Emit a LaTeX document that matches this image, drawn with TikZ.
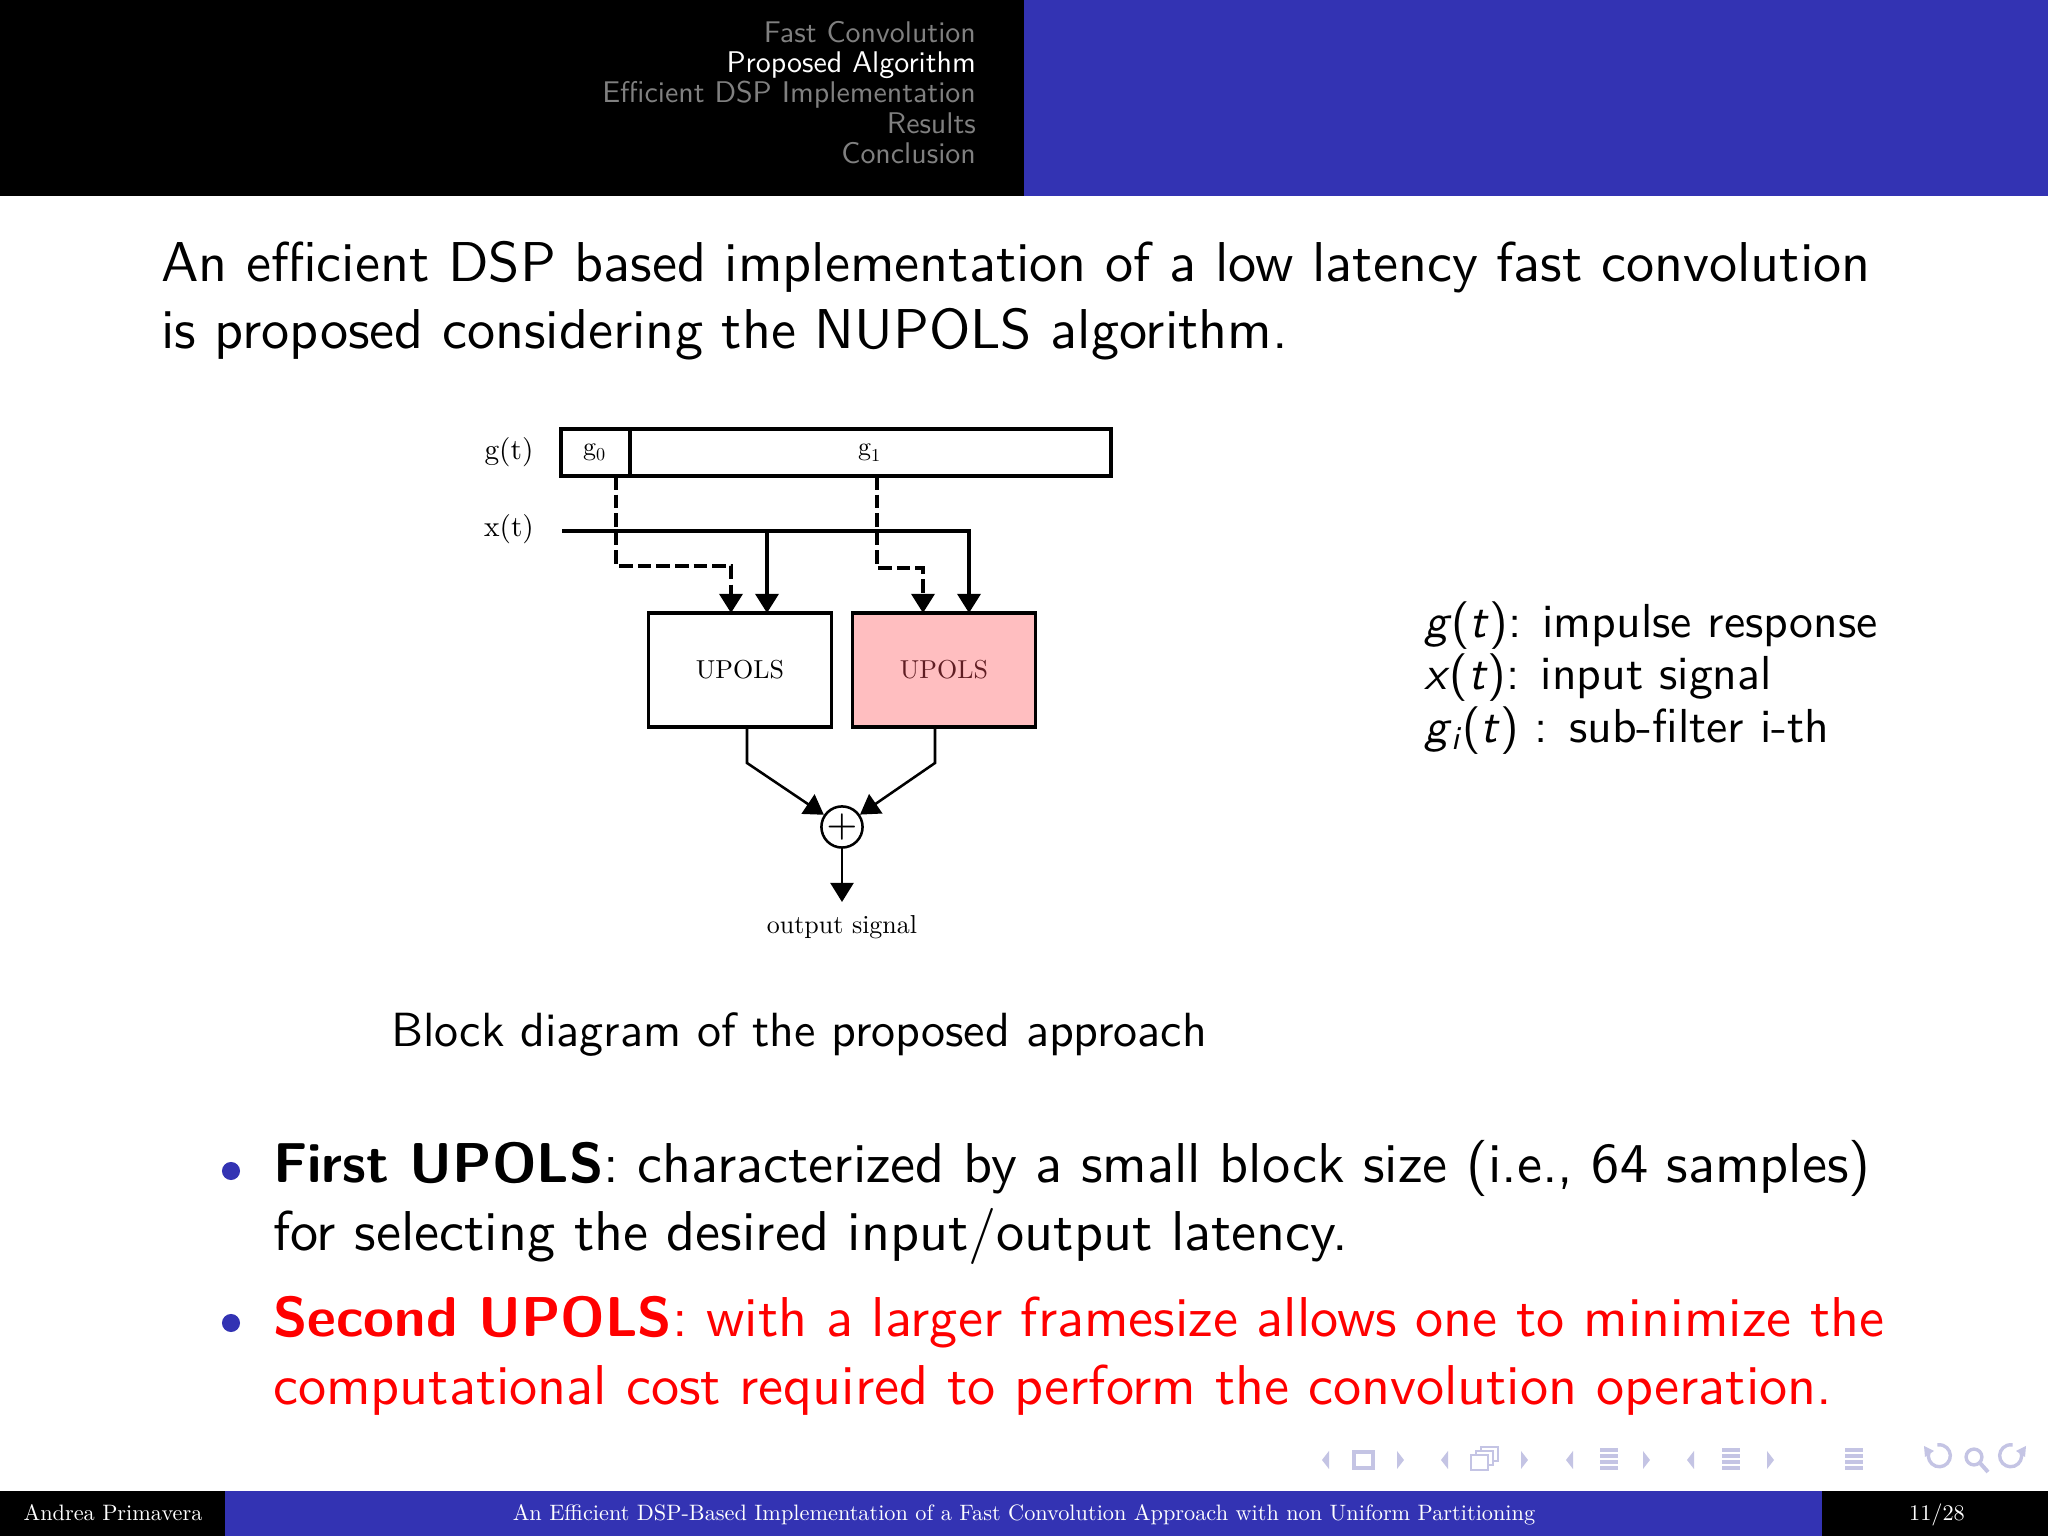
\documentclass[tikz,border=0pt]{standalone}
\usepackage{fontspec}
\usetikzlibrary{arrows.meta}
\newfontfamily\rmten{lmroman10-regular.otf}
\newfontfamily\sften{lmsans10-regular.otf}[ItalicFont=lmsans10-oblique.otf]
\definecolor{bblue}{RGB}{51,51,179}
\definecolor{pinkbox}{RGB}{255,190,192}
\definecolor{navc}{RGB}{196,196,228}
\definecolor{navgray}{RGB}{128,128,128}
\definecolor{alertred}{RGB}{255,0,0}
\definecolor{boxtxt}{RGB}{95,30,35}
\def\u{0.17715pt}
\begin{document}
\begin{tikzpicture}[x=0.17715pt,y=-0.17715pt,
  navtext/.style={anchor=base east,inner sep=0,font=\sften\fontsize{5.3}{6}\selectfont},
  bodytext/.style={anchor=base west,inner sep=0,font=\sffamily\fontsize{9.95}{12}\selectfont},
  legtext/.style={anchor=base west,inner sep=0,font=\sften\fontsize{8.45}{10}\selectfont},
  dfont/.style={font=\rmten\fontsize{4.6}{5.6}\selectfont},
  cell/.style={draw,line width=0.6pt,inner sep=0,dfont,minimum height=47*\u},
  upols/.style={draw,line width=0.6pt,inner sep=0,dfont,minimum width=183*\u,minimum height=114*\u},
  dline/.style={line width=0.6pt},
  dashline/.style={line width=0.6pt,dash pattern=on 2.4pt off 0.9pt},
  thinline/.style={line width=0.45pt},
  tri/.style={-{Triangle[width=4.1pt,length=3.4pt]}},
  foottext/.style={inner sep=0,text=white,font=\rmten\fontsize{3.95}{5}\selectfont},
  bul/.style={circle,fill=bblue,inner sep=0,minimum size=3.2pt},
  navsym/.style={navc,line width=0.45pt}
]
\useasboundingbox (0,0) rectangle (2048,1536);
\fill[white] (0,0) rectangle (2048,1536);

% ---------- header ----------
\fill[black] (0,0) rectangle (1024,196);
\fill[bblue] (1024,0) rectangle (2048,196);
\node[navtext,text=navgray] (h1) at (977,43) {Fast Convolution};
\node[navtext,text=white] (h2) at (977,73) {Proposed Algorithm};
\node[navtext,text=navgray] (h3) at (977,103) {Efficient DSP Implementation};
\node[navtext,text=navgray] (h4) at (977,134) {Results};
\node[navtext,text=navgray] (h5) at (977,164) {Conclusion};

% ---------- intro text ----------
\node[bodytext] (t1) at (160,282) {An efficient DSP based implementation of a low latency fast convolution};
\node[bodytext] (t2) at (160,349) {is proposed considering the NUPOLS algorithm.};

% ---------- block diagram ----------
\node[dfont,inner sep=0,font=\rmten\fontsize{5.2}{6}\selectfont] (gl) at (509,452) {g(t)};
\node[dfont,inner sep=0,font=\rmten\fontsize{5.2}{6}\selectfont] (xl) at (509,529) {x(t)};
\node[cell,minimum width=69*\u] (g0) at (595.5,452.5) {g\textsubscript{0}};
\node[cell,minimum width=481*\u] (g1) at (870.5,452.5) {g\textsubscript{1}};

\node[upols] (b1) at (740,670) {UPOLS};
\node[upols,fill=pinkbox,text=boxtxt] (b2) at (944,670) {UPOLS};

\coordinate (xs) at (562,531);
\coordinate (xb) at (767,531);
\coordinate (d0) at (616,476);
\coordinate (d1) at (877,476);
\coordinate (p1a) at (731,613);
\coordinate (p1b) at (767,613);
\coordinate (p2a) at (923,613);
\coordinate (p2b) at (969,613);

\draw[dashline,tri] (d0) -- (616,566) -- (731,566) -- (p1a);
\draw[dashline,tri] (d1) -- (877,568) -- (923,568) -- (p2a);
\draw[dline,tri] (xs) -- (969,531) -- (p2b);
\draw[dline,tri] (xb) -- (p1b);

\node[circle,draw,line width=0.45pt,inner sep=0,minimum size=36*\u,font=\rmten\fontsize{6}{6}\selectfont] (sum) at (842,827) {$+$};
\coordinate (o1) at (747,727);
\coordinate (o2) at (935,727);
\draw[thinline,tri] (o1) -- (747,763) -- (sum);
\draw[thinline,tri] (o2) -- (935,763) -- (sum);
\coordinate (out) at (842,902);
\draw[thinline,tri] (sum) -- (out);
\node[dfont,inner sep=0] (outl) at (842,927) {output signal};

\node[anchor=base,inner sep=0,font=\sften\fontsize{8.5}{10}\selectfont] (cap) at (799,1047) {Block diagram of the proposed approach};

% ---------- legend ----------
\node[legtext] (l1) at (1423,638) {\textit{g}(\textit{t}): impulse response};
\node[legtext] (l2) at (1423,690) {\textit{x}(\textit{t}): input signal};
\node[legtext] (l3) at (1423,743) {\textit{g}\textsubscript{\itshape i}(\textit{t}) : sub-filter i-th};

% ---------- bullets ----------
\node[bul] (bu1) at (231,1171) {};
\node[bodytext] (bt1) at (272,1183) {\textbf{First UPOLS}: characterized by a small block size (i.e., 64 samples)};
\node[bodytext] (bt2) at (272,1251) {for selecting the desired input/output latency.};
\node[bul] (bu2) at (231,1323) {};
\node[bodytext,text=alertred] (bt3) at (272,1337) {\textbf{Second UPOLS}: with a larger framesize allows one to minimize the};
\node[bodytext,text=alertred] (bt4) at (272,1405) {computational cost required to perform the convolution operation.};

% ---------- navigation symbols ----------
\foreach \xl/\xr in {1329/1397,1448/1521,1573/1643,1694/1767}{
  \fill[navc] (\xl,1451) -- (\xl-7,1460) -- (\xl,1469) -- cycle;
  \fill[navc] (\xr,1451) -- (\xr+7,1460) -- (\xr,1469) -- cycle;
}
\draw[navsym,line width=0.55pt] (1354,1452) rectangle (1373,1468);
\draw[navsym,fill=white] (1481,1447) rectangle (1498,1461);
\draw[navsym,fill=white] (1476,1451) rectangle (1493,1465);
\draw[navsym,fill=white] (1471,1455) rectangle (1488,1470);
\foreach \cx in {1609,1731,1854}{
  \draw[navsym,line width=0.7pt] (\cx-9,1450) -- (\cx+9,1450);
  \draw[navsym,line width=0.7pt] (\cx-9,1456) -- (\cx+9,1456);
  \draw[navsym,line width=0.7pt] (\cx-9,1462) -- (\cx+9,1462);
  \draw[navsym,line width=0.7pt] (\cx-9,1468) -- (\cx+9,1468);
}
\draw[navsym,line width=0.6pt] (1929,1452) arc (200:-100:11);
\fill[navc] (1924,1446) -- (1934,1451) -- (1925,1457) -- cycle;
\draw[navsym,line width=0.6pt] (1974,1457) circle[radius=1.4pt];
\draw[navsym,line width=0.7pt] (1980,1463) -- (1988,1472);
\draw[navsym,line width=0.6pt] (2021,1452) arc (-20:280:11);
\fill[navc] (2026,1446) -- (2016,1451) -- (2025,1457) -- cycle;

% ---------- footer ----------
\fill[black] (0,1491) rectangle (225,1536);
\fill[bblue] (225,1491) rectangle (1822,1536);
\fill[black] (1822,1491) rectangle (2048,1536);
\node[foottext,anchor=base] (f1) at (113,1521) {Andrea Primavera};
\node[foottext,anchor=base] (f2) at (1024,1521) {An Efficient DSP-Based Implementation of a Fast Convolution Approach with non Uniform Partitioning};
\node[foottext,anchor=base] (f3) at (1937,1521) {11/28};
\end{tikzpicture}
\end{document}
